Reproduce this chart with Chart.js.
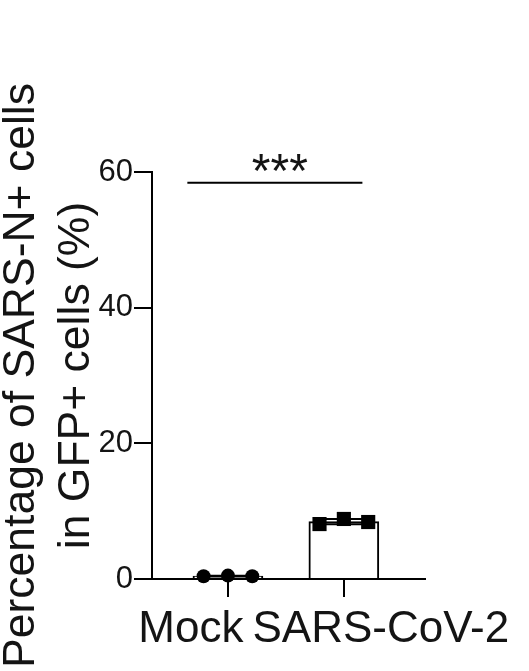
<!DOCTYPE html>
<html>
<head>
<meta charset="utf-8">
<script src="https://cdn.jsdelivr.net/npm/chart.js@4"></script>
<style>
html,body{margin:0;padding:0;background:#fff;}
#wrap{width:529px;height:671px;}
</style>
</head>
<body>
<div id="wrap"><canvas id="c" width="529" height="671"></canvas></div>
<script>
// ---- data ----
const groups = ['Mock', 'SARS-CoV-2'];
const mockValues = [0.4, 0.5, 0.4];
const sarsValues = [8.1, 8.85, 8.4];
const jitter = [-0.21, 0, 0.21];
const yTicks = [0, 20, 40, 60];
const yTitle = ['Percentage of SARS-N+ cells', 'in GFP+ cells (%)'];
const significance = '***';
const bracketSpan = [0.65, 2.16];
const bracketLevel = 58.4;

const FONT = '"Liberation Sans", Arial, Helvetica, sans-serif';
const INK = '#141414';

function mean(a){ return a.reduce((s,v)=>s+v,0)/a.length; }
function sd(a){ const m=mean(a); return Math.sqrt(a.reduce((s,v)=>s+(v-m)*(v-m),0)/(a.length-1)); }

const seriesList = [mockValues, sarsValues];
const means = seriesList.map(mean);
const sds = seriesList.map(sd);

const barData = groups.map((g,i)=>({x:i+1, y:means[i]}));
const mockPts = mockValues.map((v,j)=>({x:1+jitter[j], y:v}));
const sarsPts = sarsValues.map((v,j)=>({x:2+jitter[j], y:v}));

const overlay = {
  id:'overlay',
  afterDatasetDraw(chart, args){
    if(args.index !== 0) return;
    const ctx = chart.ctx, xs = chart.scales.x, ys = chart.scales.y;
    ctx.save();
    ctx.strokeStyle = '#000'; ctx.lineWidth = 2;
    means.forEach((m,i)=>{
      const cx = xs.getPixelForValue(i+1);
      const capHalf = 30;
      const yTop = ys.getPixelForValue(m+sds[i]);
      const yBot = ys.getPixelForValue(m-sds[i]);
      ctx.beginPath();
      ctx.moveTo(cx, yTop); ctx.lineTo(cx, yBot);
      ctx.moveTo(cx-capHalf, yTop); ctx.lineTo(cx+capHalf, yTop);
      ctx.moveTo(cx-capHalf, yBot); ctx.lineTo(cx+capHalf, yBot);
      ctx.stroke();
    });
    ctx.restore();
  },
  afterDraw(chart){
    const ctx = chart.ctx, xs = chart.scales.x, ys = chart.scales.y;
    ctx.save();
    const x0 = xs.getPixelForValue(bracketSpan[0]);
    const x1 = xs.getPixelForValue(bracketSpan[1]);
    const by = ys.getPixelForValue(bracketLevel);
    ctx.strokeStyle = '#000'; ctx.lineWidth = 2;
    ctx.beginPath(); ctx.moveTo(x0, by); ctx.lineTo(x1, by); ctx.stroke();
    ctx.fillStyle = INK;
    ctx.font = '48px ' + FONT;
    ctx.textAlign = 'center'; ctx.textBaseline = 'alphabetic';
    ctx.fillText(significance, (x0+x1)/2 + 5, by + 4);
    ctx.font = '44px ' + FONT;
    const base = chart.chartArea.bottom + 63;
    ctx.textAlign = 'center';
    ctx.fillText(groups[0], xs.getPixelForValue(1) - 37, base);
    ctx.fillText(groups[1], xs.getPixelForValue(2) + 37, base);
    ctx.restore();
  }
};

new Chart(document.getElementById('c'), {
  type:'bar',
  data:{
    datasets:[
      {type:'bar', data:barData, backgroundColor:'#fff', borderColor:'#000', borderWidth:2, barThickness:70, order:2},
      {type:'scatter', data:mockPts, pointStyle:'circle', pointRadius:7, backgroundColor:'#000', borderColor:'#000', borderWidth:0, order:1, clip:false},
      {type:'scatter', data:sarsPts, pointStyle:'rect', pointRadius:10, backgroundColor:'#000', borderColor:'#000', borderWidth:0, order:1, clip:false}
    ]
  },
  options:{
    responsive:false,
    animation:false,
    layout:{padding:{top:172, right:104, left:0, bottom:0}},
    plugins:{legend:{display:false}, tooltip:{enabled:false}},
    scales:{
      x:{
        type:'linear', min:0.345, max:2.7, offset:false,
        afterBuildTicks(s){ s.ticks = groups.map((g,i)=>({value:i+1})); },
        afterFit(s){ s.height = 92; },
        ticks:{display:false},
        grid:{display:true, offset:false, drawOnChartArea:false, drawTicks:true, tickLength:18, color:'#000', lineWidth:2},
        border:{display:true, color:'#000', width:2}
      },
      y:{
        type:'linear', min:0, max:60,
        afterBuildTicks(s){ s.ticks = yTicks.map(v=>({value:v})); },
        afterFit(s){ s.width = 152; },
        ticks:{color:INK, padding:1, font:{family:FONT, size:31}},
        grid:{display:true, drawOnChartArea:false, drawTicks:true, tickLength:18, color:'#000', lineWidth:2},
        border:{display:true, color:'#000', width:2},
        title:{display:true, text:yTitle, color:INK, padding:{top:-6, bottom:0}, font:{family:FONT, size:44.5, lineHeight:1.236}}
      }
    }
  },
  plugins:[overlay]
});
</script>
</body>
</html>
